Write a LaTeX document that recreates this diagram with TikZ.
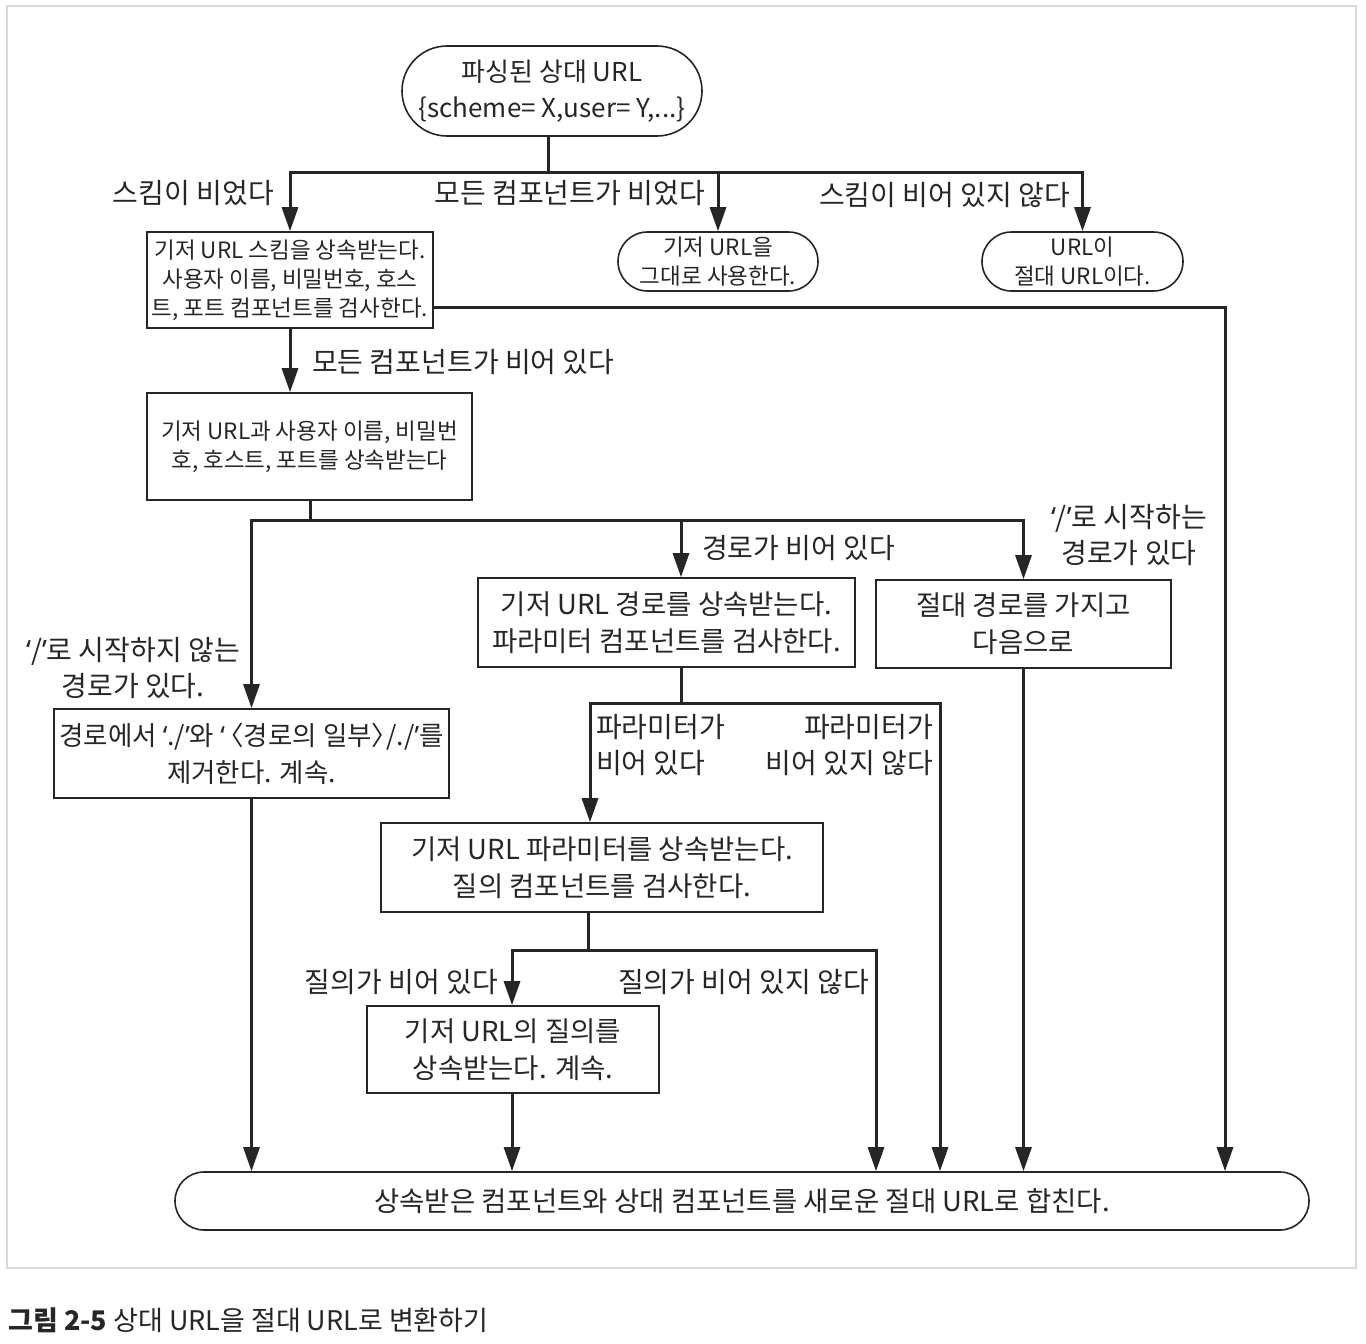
\documentclass[tikz,border=0pt]{standalone}
\usepackage{fontspec}
\setmainfont{Noto Sans CJK KR}
\newfontfamily\latinq{Noto Sans}
\newcommand{\qop}{{\latinq ‘}}
\newcommand{\qcl}{{\latinq ’}}
\newcommand{\abo}{\kern0.22em{\addfontfeatures{RawFeature=+halt}〈}}
\newcommand{\abc}{{\addfontfeatures{RawFeature=+halt}〉}\kern0.05em}
\usetikzlibrary{arrows.meta,shapes.misc}
\tikzset{
  box/.style={draw=black!85,line width=1.6pt,rectangle,inner sep=0pt,align=center,text=black!85},
  rbox/.style={draw=black!85,line width=1.6pt,rounded rectangle,inner sep=0pt,align=center,text=black!85},
  conn/.style={draw=black!85,line width=3pt},
  arr/.style={conn,-{Triangle[length=24pt,width=16pt]}},
  lbl/.style={inner sep=0pt,text=black!85,font=\fontsize{28}{36}\selectfont},
  big/.style={font=\fontsize{27.5}{37}\selectfont},
  small/.style={font=\fontsize{22.5}{29}\selectfont},
}
\begin{document}
\begin{tikzpicture}[x=1pt,y=-1pt]
\useasboundingbox (0,0) rectangle (1366,1344);
\draw[gray!30,line width=1.5pt] (7,6) rectangle (1356,1268);

% nodes
\node[rbox,font=\fontsize{26}{36}\selectfont,minimum width=300pt,minimum height=90pt] (top) at (552,91) {파싱된 상대 URL\\\{scheme= X,user= Y,...\}};
\node[box,small,minimum width=286pt,minimum height=96pt] (b1) at (290,280) {기저 URL 스킴을 상속받는다.\\사용자 이름, 비밀번호, 호스\\트, 포트 컴포넌트를 검사한다.};
\node[rbox,small,minimum width=200pt,minimum height=59pt] (r1) at (718,261.5) {기저 URL을\\그대로 사용한다.};
\node[rbox,small,minimum width=201pt,minimum height=59pt] (r2) at (1082.5,261.5) {URL이\\절대 URL이다.};
\node[box,small,minimum width=325pt,minimum height=107pt] (b2) at (309.5,446.5) {기저 URL과 사용자 이름, 비밀번\\호, 호스트, 포트를 상속받는다};
\node[box,big,minimum width=377pt,minimum height=89pt] (b3) at (666.5,622.5) {기저 URL 경로를 상속받는다.\\파라미터 컴포넌트를 검사한다.};
\node[box,big,minimum width=295pt,minimum height=88pt] (b4) at (1023.5,624) {절대 경로를 가지고\\다음으로};
\node[box,font=\fontsize{26.5}{37}\selectfont,minimum width=395pt,minimum height=89pt] (bL) at (251.5,753.5) {경로에서 \qop./\qcl 와 \qop\abo 경로의 일부\abc/./\qcl 를\\제거한다. 계속.};
\node[box,big,minimum width=442pt,minimum height=89pt] (b5) at (602,867.5) {기저 URL 파라미터를 상속받는다.\\질의 컴포넌트를 검사한다.};
\node[box,big,minimum width=292pt,minimum height=87pt] (b6) at (513,1049.5) {기저 URL의 질의를\\상속받는다. 계속.};
\node[rbox,big,minimum width=1134pt,minimum height=58pt] (bot) at (742,1201) {상속받은 컴포넌트와 상대 컴포넌트를 새로운 절대 URL로 합친다.};

% junction coordinates
\coordinate (j1) at (548,172);
\coordinate (c1) at (1225,307);
\coordinate (j2) at (310,520);
\coordinate (p3) at (681,520);
\coordinate (j3) at (681,703);
\coordinate (k1) at (590,703);
\coordinate (k2) at (940,703);
\coordinate (j4) at (588,950);
\coordinate (k3) at (512,950);
\coordinate (k4) at (876,950);

% connectors
\draw[conn] (top.south -| j1) -- (j1);
\draw[arr] (j1) -| (b1.north);
\draw[arr] (j1) -| (r1.north);
\draw[arr] (j1) -| (r2.north);
\draw[arr] (b1.east |- c1) -- (c1) -- (c1 |- bot.north);
\draw[arr] (b1.south) -- (b2.north -| b1.south);
\draw[conn] (b2.south -| j2) -- (j2);
\draw[arr] (j2) -| (bL.north);
\draw[arr] (j2) -- (p3) -- (b3.north -| p3);
\draw[arr] (p3) -| (b4.north);
\draw[conn] (b3.south -| j3) -- (j3);
\draw[arr] (j3) -- (k1) -- (b5.north -| k1);
\draw[arr] (j3) -- (k2) -- (bot.north -| k2);
\draw[arr] (b4.south) -- (bot.north -| b4.south);
\draw[conn] (b5.south -| j4) -- (j4);
\draw[arr] (j4) -- (k3) -- (b6.north -| k3);
\draw[arr] (j4) -- (k4) -- (bot.north -| k4);
\draw[arr] (b6.south -| k3) -- (bot.north -| k3);
\draw[arr] (bL.south) -- (bot.north -| bL.south);

% labels
\node[lbl,anchor=east] (l1) at (274,193) {스킴이 비었다};
\node[lbl,anchor=east] (l2) at (705,193) {모든 컴포넌트가 비었다};
\node[lbl,anchor=east] (l3) at (1070,195) {스킴이 비어 있지 않다};
\node[lbl,anchor=west] (l4) at (312,362) {모든 컴포넌트가 비어 있다};
\node[lbl,anchor=west] (l5) at (702,548) {경로가 비어 있다};
\node[lbl,align=center] (l6) at (1129,535) {\qop/\qcl 로 시작하는\\경로가 있다};
\node[lbl,align=center] (l7) at (133,668) {\qop/\qcl 로 시작하지 않는\\경로가 있다.};
\node[lbl,align=left,anchor=west] (l8) at (596,745) {파라미터가\\비어 있다};
\node[lbl,align=right,anchor=east] (l9) at (933,745) {파라미터가\\비어 있지 않다};
\node[lbl,anchor=east] (l10) at (498,982) {질의가 비어 있다};
\node[lbl,anchor=east] (l11) at (869,982) {질의가 비어 있지 않다};

% caption
\node[lbl,anchor=west,font=\fontsize{27}{30}\selectfont] (cap) at (8,1320) {\textbf{그림 2-5} 상대 URL을 절대 URL로 변환하기};
\end{tikzpicture}
\end{document}
